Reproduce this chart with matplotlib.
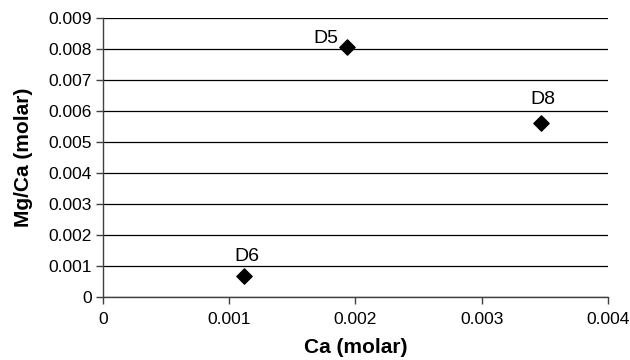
import matplotlib
matplotlib.use("Agg")
import matplotlib.pyplot as plt

plt.rcParams['font.family'] = ['Liberation Sans', 'DejaVu Sans']

# Sample data
names = ["D5", "D8", "D6"]
ca = [0.00193, 0.00347, 0.00112]
mg_ca = [0.00805, 0.00561, 0.00068]

x_ticks = [0, 0.001, 0.002, 0.003, 0.004]
y_ticks = [0, 0.001, 0.002, 0.003, 0.004, 0.005, 0.006, 0.007, 0.008, 0.009]

# label offsets in points (x, y)
offsets = {"D5": (-15, 6.5), "D8": (1.5, 17), "D6": (2, 14)}

fig = plt.figure(figsize=(6.3, 3.6), dpi=100)
ax = fig.add_axes([0.1635, 0.175, 0.8015, 0.775])

ax.scatter(ca, mg_ca, marker="D", s=60, color="black", zorder=3)
for n, x, y in zip(names, ca, mg_ca):
    ax.annotate(n, (x, y), xytext=offsets[n], textcoords="offset points",
                ha="center", va="center", fontsize=14)

ax.set_xlim(0, 0.004)
ax.set_ylim(0, 0.009)
ax.set_xticks(x_ticks)
ax.set_yticks(y_ticks)
ax.set_xticklabels(["0", "0.001", "0.002", "0.003", "0.004"])
ax.set_yticklabels(["0", "0.001", "0.002", "0.003", "0.004", "0.005",
                    "0.006", "0.007", "0.008", "0.009"])
ax.yaxis.grid(True, color="black", linewidth=0.9)
ax.set_axisbelow(True)

for s in ["top", "right"]:
    ax.spines[s].set_visible(False)
for s in ["left", "bottom"]:
    ax.spines[s].set_color("#404040")
    ax.spines[s].set_linewidth(1.0)
ax.tick_params(axis="both", direction="out", length=5, width=1, color="#404040",
               labelsize=12.5, pad=3)
ax.tick_params(axis="x", pad=6)

ax.set_xlabel("Ca (molar)", fontsize=15, fontweight="bold", labelpad=8)
ax.set_ylabel("Mg/Ca (molar)", fontsize=15, fontweight="bold", labelpad=11)

fig.savefig("out.png", dpi=100)
